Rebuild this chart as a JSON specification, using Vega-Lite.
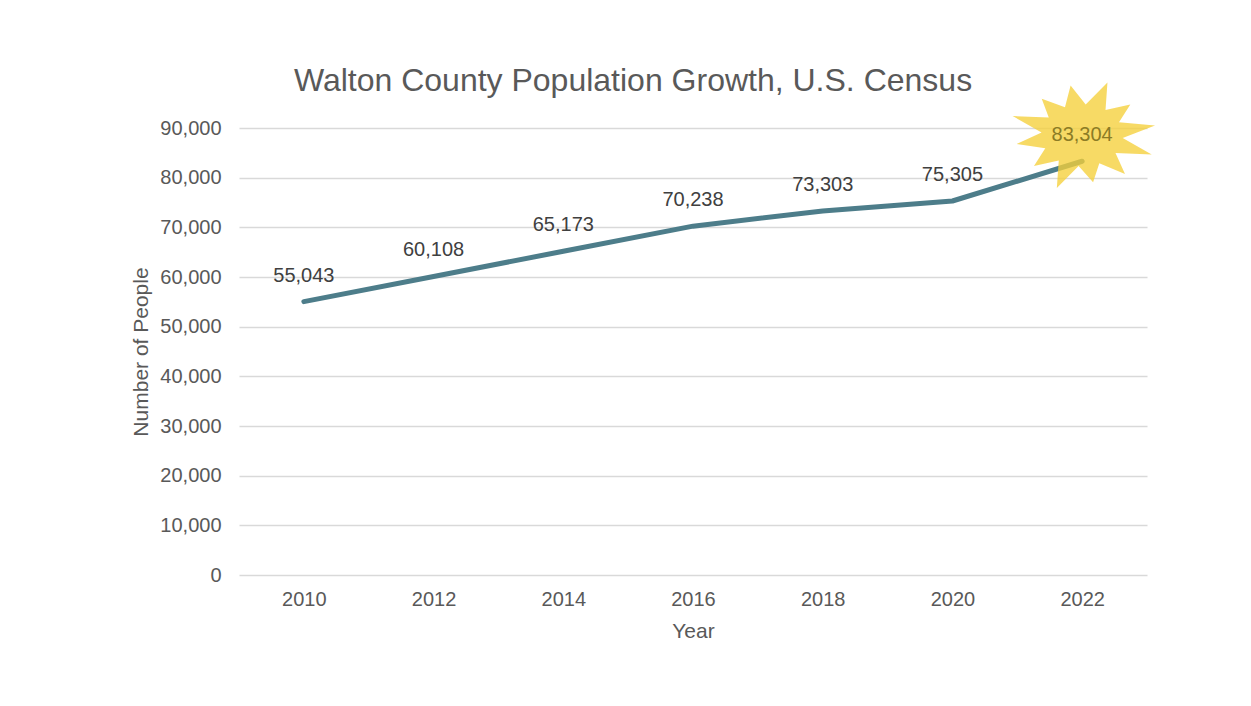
{
  "$schema": "https://vega.github.io/schema/vega-lite/v6.json",
  "width": 908,
  "height": 447,
  "autosize": {"type": "none"},
  "padding": {"left": 239, "top": 128, "right": 104, "bottom": 131},
  "background": "white",
  "config": {
    "font": "Liberation Sans",
    "view": {"stroke": null}
  },
  "title": {
    "text": "Walton County Population Growth, U.S. Census",
    "fontSize": 32,
    "fontWeight": "normal",
    "color": "#595959",
    "anchor": "middle",
    "frame": "group",
    "dx": -60,
    "dy": 42,
    "offset": 26
  },
  "data": {
    "values": [
      {"Year": "2010", "People": 55043},
      {"Year": "2012", "People": 60108},
      {"Year": "2014", "People": 65173},
      {"Year": "2016", "People": 70238},
      {"Year": "2018", "People": 73303},
      {"Year": "2020", "People": 75305},
      {"Year": "2022", "People": 83304}
    ]
  },
  "encoding": {
    "x": {
      "field": "Year",
      "type": "ordinal",
      "scale": {"type": "point", "padding": 0.5},
      "axis": {
        "title": "Year",
        "labelAngle": 0,
        "labelFontSize": 20,
        "labelColor": "#595959",
        "labelPadding": 14,
        "ticks": false,
        "domain": false,
        "titleFontSize": 21,
        "titleFontWeight": "normal",
        "titleColor": "#595959",
        "titlePadding": 11
      }
    },
    "y": {
      "field": "People",
      "type": "quantitative",
      "scale": {"domain": [0, 90000], "nice": false},
      "axis": {
        "title": "Number of People",
        "values": [0, 10000, 20000, 30000, 40000, 50000, 60000, 70000, 80000, 90000],
        "format": ",.0f",
        "labelFontSize": 20,
        "labelColor": "#595959",
        "labelPadding": 18,
        "ticks": false,
        "domain": false,
        "grid": true,
        "gridColor": "#d9d9d9",
        "gridWidth": 1.5,
        "titleFontSize": 21,
        "titleFontWeight": "normal",
        "titleColor": "#595959",
        "titlePadding": 8
      }
    }
  },
  "layer": [
    {
      "mark": {"type": "line", "color": "#4d7d8a", "strokeWidth": 5, "interpolate": "linear", "strokeCap": "round", "strokeJoin": "round"}
    },
    {
      "transform": [{"filter": "datum.Year == '2022'"}],
      "mark": {
        "type": "point",
        "shape": "M0.985,-0.132L0.498,-0.177L0.651,-0.415L0.316,-0.342L0.342,-0.714L0.048,-0.416L-0.156,-0.674L-0.232,-0.379L-0.546,-0.495L-0.451,-0.24L-0.94,-0.26L-0.548,-0.036L-0.886,0.119L-0.498,0.177L-0.651,0.415L-0.316,0.342L-0.342,0.714L-0.048,0.416L0.148,0.636L0.232,0.379L0.579,0.524L0.451,0.24L0.94,0.26L0.548,0.036Z",
        "filled": true,
        "fill": "#F5CF3A",
        "fillOpacity": 0.78,
        "strokeWidth": 0,
        "size": 21904,
        "yOffset": -26
      }
    },
    {
      "mark": {"type": "text", "fontSize": 20, "dy": -26, "baseline": "middle"},
      "encoding": {
        "text": {"field": "People", "type": "quantitative", "format": ","},
        "color": {
          "condition": {"test": "datum.Year == '2022'", "value": "#8c7c25"},
          "value": "#404040"
        }
      }
    }
  ]
}
